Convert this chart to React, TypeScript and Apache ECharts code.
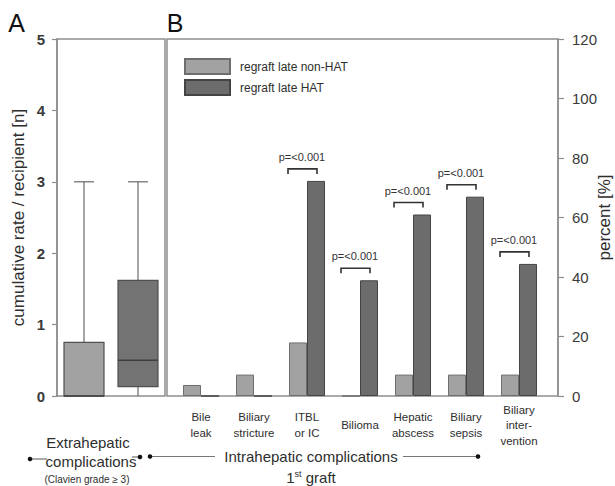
import React, { useEffect, useRef } from "react";
import * as echarts from "echarts";

// ---------- data ----------
const boxCategories = ["regraft late non-HAT", "regraft late HAT"];
// [min, Q1, median, Q3, max]
const boxNonHat = [0, 0, 0, 0.75, 3];
const boxHat = [0, 0.13, 0.5, 1.62, 3];

const categories = [
  "Bile\nleak",
  "Biliary\nstricture",
  "ITBL\nor IC",
  "Bilioma",
  "Hepatic\nabscess",
  "Biliary\nsepsis",
  "Biliary\ninter-\nvention",
];
const nonHatPct = [3.7, 7.2, 18, 0, 7.2, 7.2, 7.2];
const hatPct = [0, 0, 72.3, 38.9, 61, 67, 44.4];
const pLabels = ["", "", "p=<0.001", "p=<0.001", "p=<0.001", "p=<0.001", "p=<0.001"];

const leftAxis = { min: 0, max: 5, interval: 1 };
const rightAxis = { min: 0, max: 120, interval: 20 };

// ---------- styles ----------
const FONT = "'Liberation Sans', Arial, Helvetica, sans-serif";
const TXT = "#2e2e2e";
const FRAME = "#8e8e8e";
const LIGHT = "#a2a2a2";
const LIGHT_B = "#6e6e6e";
const DARK = "#6c6c6c";
const DARK_B = "#444444";

export default function App() {
  const ref = useRef<HTMLDivElement>(null);

  useEffect(() => {
    if (!ref.current) return;
    const chart = echarts.init(ref.current, null, { renderer: "svg" });

    const boxData = [boxNonHat, boxHat].map((s, i) => [i, ...s]);
    const boxFills = [LIGHT, "#737373"];

    const bracketData = pLabels
      .map((p, i) => (p ? [i, Math.max(nonHatPct[i], hatPct[i]), p] : null))
      .filter((d) => d !== null);

    const option: any = {
      animation: false,
      textStyle: { fontFamily: FONT },
      grid: [
        {
          left: 57,
          top: 39,
          width: 108,
          height: 357,
          show: true,
          borderColor: FRAME,
          borderWidth: 1.5,
          backgroundColor: "transparent",
          containLabel: false,
          outerBoundsMode: "none",
        },
        { left: 174.5, top: 39, width: 371, height: 357, containLabel: false, outerBoundsMode: "none" },
      ],
      legend: {
        data: ["regraft late non-HAT", "regraft late HAT"],
        orient: "vertical",
        left: 179,
        top: 53,
        itemWidth: 45,
        itemHeight: 15,
        itemGap: 4,
        icon: "rect",
        textStyle: { fontSize: 12, color: TXT, fontFamily: FONT, padding: [0, 0, 0, 5] },
      },
      xAxis: [
        {
          type: "category",
          gridIndex: 0,
          data: boxCategories,
          axisLine: { show: false },
          axisTick: { show: false },
          axisLabel: { show: false },
        },
        {
          type: "category",
          gridIndex: 1,
          data: categories,
          axisLine: { show: false },
          axisTick: { show: false },
          axisLabel: {
            interval: 0,
            fontSize: 11.5,
            lineHeight: 15.5,
            color: TXT,
            fontFamily: FONT,
            margin: 29,
            verticalAlign: "middle",
          },
        },
      ],
      yAxis: [
        {
          type: "value",
          gridIndex: 0,
          ...leftAxis,
          splitLine: { show: false },
          axisLine: { show: true, lineStyle: { color: FRAME, width: 1.5 } },
          axisTick: { show: true, length: 5, lineStyle: { color: FRAME, width: 1.2 } },
          axisLabel: { fontSize: 15, color: "#3a3a3a", margin: 12, fontFamily: FONT, fontWeight: "bold" },
          name: "cumulative rate / recipient [n]",
          nameLocation: "middle",
          nameRotate: 90,
          nameGap: 30,
          nameMoveOverlap: false,
          nameTextStyle: { fontSize: 17, color: TXT, fontFamily: FONT },
        },
        {
          type: "value",
          gridIndex: 1,
          position: "right",
          offset: 12.5,
          ...rightAxis,
          splitLine: { show: false },
          axisLine: { show: true, lineStyle: { color: FRAME, width: 1.5 } },
          axisTick: { show: true, length: 6, lineStyle: { color: FRAME, width: 1.2 } },
          axisLabel: { fontSize: 15, color: "#3a3a3a", margin: 14, fontFamily: FONT },
          name: "percent [%]",
          nameLocation: "middle",
          nameRotate: 90,
          nameGap: 38,
          nameMoveOverlap: false,
          nameTextStyle: { fontSize: 17, color: TXT, fontFamily: FONT },
        },
      ],
      series: [
        {
          type: "custom",
          name: "box",
          xAxisIndex: 0,
          yAxisIndex: 0,
          data: boxData,
          encode: { x: 0, y: [1, 2, 3, 4, 5] },
          renderItem: (params: any, api: any) => {
            const i = api.value(0);
            const pMin = api.coord([i, api.value(1)]);
            const pQ1 = api.coord([i, api.value(2)]);
            const pMed = api.coord([i, api.value(3)]);
            const pQ3 = api.coord([i, api.value(4)]);
            const pMax = api.coord([i, api.value(5)]);
            const cx = pMed[0];
            const hw = 20;
            const cap = 10;
            const lineStyle = { stroke: "#6a6a6a", lineWidth: 1.2, fill: null };
            return {
              type: "group",
              children: [
                { type: "line", shape: { x1: cx, y1: pMax[1], x2: cx, y2: pQ3[1] }, style: lineStyle },
                { type: "line", shape: { x1: cx - cap, y1: pMax[1], x2: cx + cap, y2: pMax[1] }, style: lineStyle },
                { type: "line", shape: { x1: cx, y1: pQ1[1], x2: cx, y2: pMin[1] }, style: lineStyle },
                {
                  type: "rect",
                  shape: { x: cx - hw, y: pQ3[1], width: 2 * hw, height: pQ1[1] - pQ3[1] },
                  style: { fill: boxFills[i], stroke: "#505050", lineWidth: 1.2 },
                },
                {
                  type: "line",
                  shape: { x1: cx - hw, y1: pMed[1], x2: cx + hw, y2: pMed[1] },
                  style: { stroke: "#3e3e3e", lineWidth: 1.5 },
                },
              ],
            };
          },
          z: 3,
        },
        {
          type: "bar",
          name: "regraft late non-HAT",
          xAxisIndex: 1,
          yAxisIndex: 1,
          data: nonHatPct,
          barWidth: 18,
          barGap: "0%",
          itemStyle: { color: LIGHT, borderColor: LIGHT_B, borderWidth: 1 },
        },
        {
          type: "bar",
          name: "regraft late HAT",
          xAxisIndex: 1,
          yAxisIndex: 1,
          data: hatPct,
          barWidth: 18,
          barGap: "0%",
          itemStyle: { color: DARK, borderColor: DARK_B, borderWidth: 1 },
        },
        {
          type: "custom",
          name: "p",
          xAxisIndex: 1,
          yAxisIndex: 1,
          data: bracketData,
          encode: { x: 0, y: 1 },
          renderItem: (params: any, api: any) => {
            const idx = api.value(0);
            const p = api.coord([idx, api.value(1)]);
            const item = bracketData[params.dataIndex] as any[];
            const top = p[1] - 12;
            const x1 = p[0] - 19;
            const x2 = p[0] + 10;
            return {
              type: "group",
              children: [
                {
                  type: "polyline",
                  shape: { points: [[x1, top + 5], [x1, top], [x2, top], [x2, top + 5]] },
                  style: { stroke: "#333", lineWidth: 1.6, fill: null },
                },
                {
                  type: "text",
                  x: p[0] - 5,
                  y: top - 12,
                  style: {
                    text: item[2],
                    fill: "#333",
                    fontSize: 11,
                    fontFamily: FONT,
                    align: "center",
                    verticalAlign: "middle",
                  },
                },
              ],
            };
          },
          z: 4,
        },
      ],
      graphic: [
        {
          type: "rect",
          shape: { x: 167, y: 39, width: 391, height: 357 },
          style: { fill: "none", stroke: FRAME, lineWidth: 1.5 },
          z: 1,
          silent: true,
        },
        { type: "text", x: 16.5, y: 22.5, style: { text: "A", fontSize: 25, fill: "#111", fontFamily: FONT, align: "center", verticalAlign: "middle" } },
        { type: "text", x: 175, y: 22.5, style: { text: "B", fontSize: 25, fill: "#111", fontFamily: FONT, align: "center", verticalAlign: "middle" } },
        // bottom group labels
        { type: "text", x: 88, y: 442, style: { text: "Extrahepatic", fontSize: 15, fill: TXT, fontFamily: FONT, align: "center", verticalAlign: "middle" } },
        { type: "text", x: 91, y: 461, style: { text: "complications", fontSize: 15, fill: TXT, fontFamily: FONT, align: "center", verticalAlign: "middle" } },
        { type: "text", x: 87, y: 479, style: { text: "(Clavien grade ≥ 3)", fontSize: 10, fill: TXT, fontFamily: FONT, align: "center", verticalAlign: "middle" } },
        { type: "line", shape: { x1: 30, y1: 459, x2: 47, y2: 459 }, style: { stroke: "#555", lineWidth: 1 } },
        { type: "circle", shape: { cx: 30, cy: 459, r: 2.3 }, style: { fill: "#111" } },
        { type: "line", shape: { x1: 132, y1: 457, x2: 140, y2: 457 }, style: { stroke: "#555", lineWidth: 1 } },
        { type: "circle", shape: { cx: 140, cy: 457, r: 2.3 }, style: { fill: "#111" } },
        { type: "line", shape: { x1: 150, y1: 456.5, x2: 215, y2: 456.5 }, style: { stroke: "#777", lineWidth: 1.2 } },
        { type: "circle", shape: { cx: 150, cy: 456.5, r: 2.3 }, style: { fill: "#111" } },
        { type: "line", shape: { x1: 403, y1: 456.5, x2: 478, y2: 456.5 }, style: { stroke: "#777", lineWidth: 1.2 } },
        { type: "circle", shape: { cx: 478, cy: 456.5, r: 2.3 }, style: { fill: "#111" } },
        { type: "text", x: 311, y: 456, style: { text: "Intrahepatic complications", fontSize: 15, fill: TXT, fontFamily: FONT, align: "center", verticalAlign: "middle" } },
        {
          type: "text",
          x: 311,
          y: 477,
          style: {
            text: "{n|1}{s|st}{n| graft}",
            fill: TXT,
            fontFamily: FONT,
            align: "center",
            verticalAlign: "middle",
            rich: {
              n: { fontSize: 15, fill: TXT, fontFamily: FONT },
              s: { fontSize: 9, fill: TXT, fontFamily: FONT, verticalAlign: "top", padding: [0, 0, 6, 0] },
            },
          },
        },
      ],
    };

    chart.setOption(option);
    return () => chart.dispose();
  }, []);

  return <div ref={ref} style={{ width: 615, height: 486, position: "absolute", left: 0, top: 0, background: "#fff" }} />;
}
